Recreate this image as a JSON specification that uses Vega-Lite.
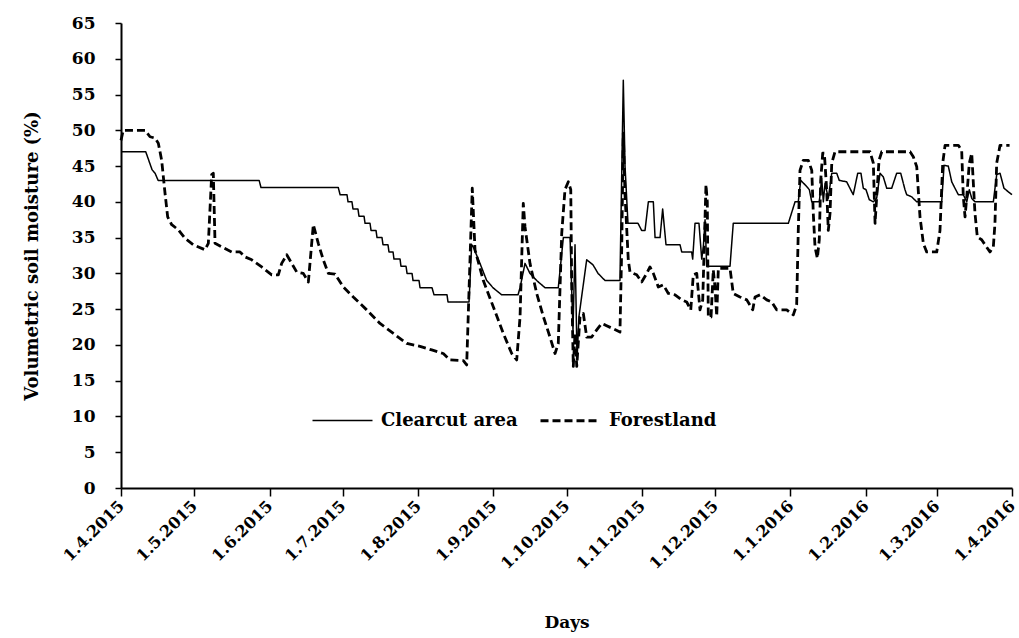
{
  "$schema": "https://vega.github.io/schema/vega-lite/v6.json",
  "width": 891,
  "height": 465,
  "autosize": {"type": "none"},
  "padding": {"left": 121, "top": 23, "right": 7, "bottom": 150},
  "background": "white",
  "data": {"values": [
    {"series":"Clearcut area","date":"2015-04-01T00:00","moisture":47},
    {"series":"Clearcut area","date":"2015-04-11T04:00","moisture":47},
    {"series":"Clearcut area","date":"2015-04-13T18:00","moisture":44.5},
    {"series":"Clearcut area","date":"2015-04-15T00:00","moisture":44},
    {"series":"Clearcut area","date":"2015-04-16T06:00","moisture":43},
    {"series":"Clearcut area","date":"2015-05-27T18:00","moisture":43},
    {"series":"Clearcut area","date":"2015-05-28T12:00","moisture":42},
    {"series":"Clearcut area","date":"2015-06-29T06:00","moisture":42},
    {"series":"Clearcut area","date":"2015-06-30T00:00","moisture":41},
    {"series":"Clearcut area","date":"2015-07-02T20:00","moisture":41},
    {"series":"Clearcut area","date":"2015-07-03T06:00","moisture":40},
    {"series":"Clearcut area","date":"2015-07-04T21:00","moisture":40},
    {"series":"Clearcut area","date":"2015-07-05T07:00","moisture":39},
    {"series":"Clearcut area","date":"2015-07-07T08:00","moisture":39},
    {"series":"Clearcut area","date":"2015-07-07T18:00","moisture":38},
    {"series":"Clearcut area","date":"2015-07-09T20:00","moisture":38},
    {"series":"Clearcut area","date":"2015-07-10T06:00","moisture":37},
    {"series":"Clearcut area","date":"2015-07-12T07:00","moisture":37},
    {"series":"Clearcut area","date":"2015-07-12T17:00","moisture":36},
    {"series":"Clearcut area","date":"2015-07-14T18:00","moisture":36},
    {"series":"Clearcut area","date":"2015-07-15T04:00","moisture":35},
    {"series":"Clearcut area","date":"2015-07-17T05:00","moisture":35},
    {"series":"Clearcut area","date":"2015-07-17T15:00","moisture":34},
    {"series":"Clearcut area","date":"2015-07-19T16:00","moisture":34},
    {"series":"Clearcut area","date":"2015-07-20T02:00","moisture":33},
    {"series":"Clearcut area","date":"2015-07-21T18:00","moisture":33},
    {"series":"Clearcut area","date":"2015-07-22T03:00","moisture":32},
    {"series":"Clearcut area","date":"2015-07-24T15:00","moisture":32},
    {"series":"Clearcut area","date":"2015-07-25T00:00","moisture":31},
    {"series":"Clearcut area","date":"2015-07-27T02:00","moisture":31},
    {"series":"Clearcut area","date":"2015-07-27T12:00","moisture":30},
    {"series":"Clearcut area","date":"2015-07-29T13:00","moisture":30},
    {"series":"Clearcut area","date":"2015-07-29T23:00","moisture":29},
    {"series":"Clearcut area","date":"2015-08-01T10:00","moisture":29},
    {"series":"Clearcut area","date":"2015-08-01T20:00","moisture":28},
    {"series":"Clearcut area","date":"2015-08-06T18:00","moisture":28},
    {"series":"Clearcut area","date":"2015-08-07T14:00","moisture":27},
    {"series":"Clearcut area","date":"2015-08-12T22:00","moisture":27},
    {"series":"Clearcut area","date":"2015-08-13T08:00","moisture":26},
    {"series":"Clearcut area","date":"2015-08-21T23:00","moisture":26},
    {"series":"Clearcut area","date":"2015-08-23T01:00","moisture":34},
    {"series":"Clearcut area","date":"2015-08-23T17:00","moisture":33.7},
    {"series":"Clearcut area","date":"2015-08-26T11:00","moisture":31.4},
    {"series":"Clearcut area","date":"2015-08-29T05:00","moisture":29},
    {"series":"Clearcut area","date":"2015-08-31T19:00","moisture":28},
    {"series":"Clearcut area","date":"2015-09-04T09:00","moisture":27},
    {"series":"Clearcut area","date":"2015-09-11T02:00","moisture":27},
    {"series":"Clearcut area","date":"2015-09-11T22:00","moisture":28},
    {"series":"Clearcut area","date":"2015-09-13T23:00","moisture":31.4},
    {"series":"Clearcut area","date":"2015-09-16T00:00","moisture":30},
    {"series":"Clearcut area","date":"2015-09-18T18:00","moisture":29},
    {"series":"Clearcut area","date":"2015-09-22T04:00","moisture":28},
    {"series":"Clearcut area","date":"2015-09-27T15:00","moisture":28},
    {"series":"Clearcut area","date":"2015-09-29T17:00","moisture":35},
    {"series":"Clearcut area","date":"2015-10-02T11:00","moisture":35},
    {"series":"Clearcut area","date":"2015-10-03T16:00","moisture":22},
    {"series":"Clearcut area","date":"2015-10-04T12:00","moisture":34},
    {"series":"Clearcut area","date":"2015-10-05T08:00","moisture":18},
    {"series":"Clearcut area","date":"2015-10-06T03:00","moisture":24},
    {"series":"Clearcut area","date":"2015-10-09T07:00","moisture":31.9},
    {"series":"Clearcut area","date":"2015-10-11T21:00","moisture":31.2},
    {"series":"Clearcut area","date":"2015-10-13T23:00","moisture":30},
    {"series":"Clearcut area","date":"2015-10-16T20:00","moisture":29},
    {"series":"Clearcut area","date":"2015-10-22T23:00","moisture":29},
    {"series":"Clearcut area","date":"2015-10-24T08:00","moisture":57},
    {"series":"Clearcut area","date":"2015-10-25T01:00","moisture":45},
    {"series":"Clearcut area","date":"2015-10-26T06:00","moisture":37},
    {"series":"Clearcut area","date":"2015-10-30T09:00","moisture":37},
    {"series":"Clearcut area","date":"2015-10-31T21:00","moisture":36},
    {"series":"Clearcut area","date":"2015-11-02T06:00","moisture":36},
    {"series":"Clearcut area","date":"2015-11-03T15:00","moisture":40},
    {"series":"Clearcut area","date":"2015-11-05T16:00","moisture":40},
    {"series":"Clearcut area","date":"2015-11-06T09:00","moisture":35},
    {"series":"Clearcut area","date":"2015-11-08T10:00","moisture":35},
    {"series":"Clearcut area","date":"2015-11-09T12:00","moisture":39},
    {"series":"Clearcut area","date":"2015-11-10T21:00","moisture":34},
    {"series":"Clearcut area","date":"2015-11-16T15:00","moisture":34},
    {"series":"Clearcut area","date":"2015-11-17T08:00","moisture":33},
    {"series":"Clearcut area","date":"2015-11-21T10:00","moisture":33},
    {"series":"Clearcut area","date":"2015-11-21T20:00","moisture":32},
    {"series":"Clearcut area","date":"2015-11-22T19:00","moisture":37},
    {"series":"Clearcut area","date":"2015-11-24T10:00","moisture":37},
    {"series":"Clearcut area","date":"2015-11-25T13:00","moisture":32},
    {"series":"Clearcut area","date":"2015-11-26T05:00","moisture":33.7},
    {"series":"Clearcut area","date":"2015-11-26T22:00","moisture":37.5},
    {"series":"Clearcut area","date":"2015-11-27T14:00","moisture":31},
    {"series":"Clearcut area","date":"2015-12-07T04:00","moisture":31},
    {"series":"Clearcut area","date":"2015-12-08T12:00","moisture":37},
    {"series":"Clearcut area","date":"2015-12-31T03:00","moisture":37},
    {"series":"Clearcut area","date":"2016-01-02T21:00","moisture":40},
    {"series":"Clearcut area","date":"2016-01-04T05:00","moisture":40},
    {"series":"Clearcut area","date":"2016-01-05T05:00","moisture":43},
    {"series":"Clearcut area","date":"2016-01-06T23:00","moisture":42.4},
    {"series":"Clearcut area","date":"2016-01-08T18:00","moisture":41.7},
    {"series":"Clearcut area","date":"2016-01-09T18:00","moisture":40},
    {"series":"Clearcut area","date":"2016-01-12T20:00","moisture":40},
    {"series":"Clearcut area","date":"2016-01-13T20:00","moisture":43.3},
    {"series":"Clearcut area","date":"2016-01-14T12:00","moisture":40},
    {"series":"Clearcut area","date":"2016-01-15T05:00","moisture":42.6},
    {"series":"Clearcut area","date":"2016-01-16T13:00","moisture":40.5},
    {"series":"Clearcut area","date":"2016-01-17T23:00","moisture":44},
    {"series":"Clearcut area","date":"2016-01-20T00:00","moisture":44},
    {"series":"Clearcut area","date":"2016-01-21T01:00","moisture":43},
    {"series":"Clearcut area","date":"2016-01-24T02:00","moisture":42.8},
    {"series":"Clearcut area","date":"2016-01-26T04:00","moisture":41.4},
    {"series":"Clearcut area","date":"2016-01-26T19:00","moisture":41},
    {"series":"Clearcut area","date":"2016-01-28T15:00","moisture":44},
    {"series":"Clearcut area","date":"2016-01-29T23:00","moisture":44},
    {"series":"Clearcut area","date":"2016-01-30T22:00","moisture":41.9},
    {"series":"Clearcut area","date":"2016-02-01T01:00","moisture":41.7},
    {"series":"Clearcut area","date":"2016-02-02T09:00","moisture":40.3},
    {"series":"Clearcut area","date":"2016-02-04T01:00","moisture":40},
    {"series":"Clearcut area","date":"2016-02-05T10:00","moisture":40.5},
    {"series":"Clearcut area","date":"2016-02-06T19:00","moisture":44},
    {"series":"Clearcut area","date":"2016-02-08T03:00","moisture":43.5},
    {"series":"Clearcut area","date":"2016-02-09T13:00","moisture":41.9},
    {"series":"Clearcut area","date":"2016-02-11T14:00","moisture":41.9},
    {"series":"Clearcut area","date":"2016-02-13T15:00","moisture":44},
    {"series":"Clearcut area","date":"2016-02-15T07:00","moisture":44},
    {"series":"Clearcut area","date":"2016-02-17T01:00","moisture":41.7},
    {"series":"Clearcut area","date":"2016-02-17T18:00","moisture":41},
    {"series":"Clearcut area","date":"2016-02-19T19:00","moisture":40.7},
    {"series":"Clearcut area","date":"2016-02-21T21:00","moisture":40},
    {"series":"Clearcut area","date":"2016-03-03T03:00","moisture":40},
    {"series":"Clearcut area","date":"2016-03-04T02:00","moisture":45.1},
    {"series":"Clearcut area","date":"2016-03-05T20:00","moisture":45},
    {"series":"Clearcut area","date":"2016-03-07T06:00","moisture":42.8},
    {"series":"Clearcut area","date":"2016-03-08T14:00","moisture":41.9},
    {"series":"Clearcut area","date":"2016-03-09T23:00","moisture":41},
    {"series":"Clearcut area","date":"2016-03-12T00:00","moisture":41},
    {"series":"Clearcut area","date":"2016-03-13T10:00","moisture":40},
    {"series":"Clearcut area","date":"2016-03-14T11:00","moisture":41.7},
    {"series":"Clearcut area","date":"2016-03-15T11:00","moisture":40.5},
    {"series":"Clearcut area","date":"2016-03-16T19:00","moisture":40},
    {"series":"Clearcut area","date":"2016-03-24T08:00","moisture":40},
    {"series":"Clearcut area","date":"2016-03-25T17:00","moisture":43.8},
    {"series":"Clearcut area","date":"2016-03-27T02:00","moisture":44},
    {"series":"Clearcut area","date":"2016-03-28T17:00","moisture":41.9},
    {"series":"Clearcut area","date":"2016-03-30T12:00","moisture":41.4},
    {"series":"Clearcut area","date":"2016-04-01T00:00","moisture":41},
    {"series":"Forestland","date":"2015-04-01T00:00","moisture":48.6},
    {"series":"Forestland","date":"2015-04-01T22:00","moisture":50},
    {"series":"Forestland","date":"2015-04-10T21:00","moisture":50},
    {"series":"Forestland","date":"2015-04-12T22:00","moisture":49.1},
    {"series":"Forestland","date":"2015-04-15T00:00","moisture":48.9},
    {"series":"Forestland","date":"2015-04-16T08:00","moisture":48.2},
    {"series":"Forestland","date":"2015-04-17T17:00","moisture":45.8},
    {"series":"Forestland","date":"2015-04-19T02:00","moisture":41.2},
    {"series":"Forestland","date":"2015-04-20T04:00","moisture":37.9},
    {"series":"Forestland","date":"2015-04-21T20:00","moisture":36.8},
    {"series":"Forestland","date":"2015-04-24T13:00","moisture":36.1},
    {"series":"Forestland","date":"2015-04-27T07:00","moisture":34.9},
    {"series":"Forestland","date":"2015-04-30T17:00","moisture":34},
    {"series":"Forestland","date":"2015-05-05T12:00","moisture":33.3},
    {"series":"Forestland","date":"2015-05-06T21:00","moisture":34.2},
    {"series":"Forestland","date":"2015-05-08T06:00","moisture":43.8},
    {"series":"Forestland","date":"2015-05-08T22:00","moisture":44},
    {"series":"Forestland","date":"2015-05-09T15:00","moisture":34.2},
    {"series":"Forestland","date":"2015-05-12T09:00","moisture":33.7},
    {"series":"Forestland","date":"2015-05-16T11:00","moisture":33},
    {"series":"Forestland","date":"2015-05-19T21:00","moisture":33},
    {"series":"Forestland","date":"2015-05-21T23:00","moisture":32.3},
    {"series":"Forestland","date":"2015-05-24T17:00","moisture":31.9},
    {"series":"Forestland","date":"2015-05-28T19:00","moisture":30.9},
    {"series":"Forestland","date":"2015-06-01T22:00","moisture":29.8},
    {"series":"Forestland","date":"2015-06-04T15:00","moisture":29.8},
    {"series":"Forestland","date":"2015-06-06T00:00","moisture":31.4},
    {"series":"Forestland","date":"2015-06-08T02:00","moisture":32.6},
    {"series":"Forestland","date":"2015-06-10T03:00","moisture":31.4},
    {"series":"Forestland","date":"2015-06-12T04:00","moisture":30.2},
    {"series":"Forestland","date":"2015-06-14T21:00","moisture":30},
    {"series":"Forestland","date":"2015-06-16T23:00","moisture":28.8},
    {"series":"Forestland","date":"2015-06-19T00:00","moisture":36.8},
    {"series":"Forestland","date":"2015-06-21T01:00","moisture":34.2},
    {"series":"Forestland","date":"2015-06-23T02:00","moisture":31.9},
    {"series":"Forestland","date":"2015-06-25T04:00","moisture":30},
    {"series":"Forestland","date":"2015-06-27T22:00","moisture":29.9},
    {"series":"Forestland","date":"2015-07-01T08:00","moisture":28.1},
    {"series":"Forestland","date":"2015-07-05T10:00","moisture":26.7},
    {"series":"Forestland","date":"2015-07-10T22:00","moisture":24.9},
    {"series":"Forestland","date":"2015-07-16T09:00","moisture":23},
    {"series":"Forestland","date":"2015-07-21T21:00","moisture":21.6},
    {"series":"Forestland","date":"2015-07-27T09:00","moisture":20.2},
    {"series":"Forestland","date":"2015-08-01T20:00","moisture":19.8},
    {"series":"Forestland","date":"2015-08-06T15:00","moisture":19.3},
    {"series":"Forestland","date":"2015-08-11T09:00","moisture":18.8},
    {"series":"Forestland","date":"2015-08-14T04:00","moisture":17.9},
    {"series":"Forestland","date":"2015-08-19T15:00","moisture":17.8},
    {"series":"Forestland","date":"2015-08-21T00:00","moisture":17.2},
    {"series":"Forestland","date":"2015-08-23T07:00","moisture":41.9},
    {"series":"Forestland","date":"2015-08-24T10:00","moisture":33.3},
    {"series":"Forestland","date":"2015-08-27T20:00","moisture":29},
    {"series":"Forestland","date":"2015-08-31T23:00","moisture":25.3},
    {"series":"Forestland","date":"2015-09-05T01:00","moisture":21.6},
    {"series":"Forestland","date":"2015-09-08T12:00","moisture":18.8},
    {"series":"Forestland","date":"2015-09-10T13:00","moisture":17.9},
    {"series":"Forestland","date":"2015-09-11T22:00","moisture":23.9},
    {"series":"Forestland","date":"2015-09-13T06:00","moisture":39.8},
    {"series":"Forestland","date":"2015-09-13T23:00","moisture":36.5},
    {"series":"Forestland","date":"2015-09-16T00:00","moisture":31.4},
    {"series":"Forestland","date":"2015-09-18T18:00","moisture":27.2},
    {"series":"Forestland","date":"2015-09-21T11:00","moisture":24},
    {"series":"Forestland","date":"2015-09-24T05:00","moisture":21.1},
    {"series":"Forestland","date":"2015-09-26T07:00","moisture":18.8},
    {"series":"Forestland","date":"2015-09-27T15:00","moisture":20.2},
    {"series":"Forestland","date":"2015-09-29T01:00","moisture":35.6},
    {"series":"Forestland","date":"2015-09-30T09:00","moisture":41.7},
    {"series":"Forestland","date":"2015-10-01T18:00","moisture":42.8},
    {"series":"Forestland","date":"2015-10-02T18:00","moisture":41.7},
    {"series":"Forestland","date":"2015-10-03T03:00","moisture":28.6},
    {"series":"Forestland","date":"2015-10-03T19:00","moisture":17},
    {"series":"Forestland","date":"2015-10-04T12:00","moisture":21.6},
    {"series":"Forestland","date":"2015-10-05T05:00","moisture":17},
    {"series":"Forestland","date":"2015-10-06T13:00","moisture":23.9},
    {"series":"Forestland","date":"2015-10-07T22:00","moisture":24.4},
    {"series":"Forestland","date":"2015-10-09T07:00","moisture":21.1},
    {"series":"Forestland","date":"2015-10-11T08:00","moisture":21.1},
    {"series":"Forestland","date":"2015-10-13T10:00","moisture":22.1},
    {"series":"Forestland","date":"2015-10-15T11:00","moisture":23},
    {"series":"Forestland","date":"2015-10-16T20:00","moisture":22.8},
    {"series":"Forestland","date":"2015-10-22T23:00","moisture":21.8},
    {"series":"Forestland","date":"2015-10-23T16:00","moisture":33.3},
    {"series":"Forestland","date":"2015-10-24T08:00","moisture":49.6},
    {"series":"Forestland","date":"2015-10-25T01:00","moisture":41},
    {"series":"Forestland","date":"2015-10-26T09:00","moisture":31.9},
    {"series":"Forestland","date":"2015-10-27T02:00","moisture":30.2},
    {"series":"Forestland","date":"2015-10-29T20:00","moisture":29.8},
    {"series":"Forestland","date":"2015-10-31T21:00","moisture":28.8},
    {"series":"Forestland","date":"2015-11-02T23:00","moisture":30},
    {"series":"Forestland","date":"2015-11-04T07:00","moisture":30.9},
    {"series":"Forestland","date":"2015-11-05T16:00","moisture":30},
    {"series":"Forestland","date":"2015-11-07T17:00","moisture":28.1},
    {"series":"Forestland","date":"2015-11-09T18:00","moisture":28.4},
    {"series":"Forestland","date":"2015-11-11T20:00","moisture":27.2},
    {"series":"Forestland","date":"2015-11-14T14:00","moisture":27},
    {"series":"Forestland","date":"2015-11-17T08:00","moisture":26.3},
    {"series":"Forestland","date":"2015-11-19T09:00","moisture":26},
    {"series":"Forestland","date":"2015-11-21T01:00","moisture":24.9},
    {"series":"Forestland","date":"2015-11-22T02:00","moisture":29.8},
    {"series":"Forestland","date":"2015-11-23T12:00","moisture":30},
    {"series":"Forestland","date":"2015-11-24T20:00","moisture":24.9},
    {"series":"Forestland","date":"2015-11-25T23:00","moisture":26.3},
    {"series":"Forestland","date":"2015-11-27T07:00","moisture":42.4},
    {"series":"Forestland","date":"2015-11-27T20:00","moisture":40},
    {"series":"Forestland","date":"2015-11-28T06:00","moisture":23.9},
    {"series":"Forestland","date":"2015-11-29T09:00","moisture":23.9},
    {"series":"Forestland","date":"2015-11-30T07:00","moisture":30.5},
    {"series":"Forestland","date":"2015-12-01T00:00","moisture":28.1},
    {"series":"Forestland","date":"2015-12-01T17:00","moisture":24},
    {"series":"Forestland","date":"2015-12-02T09:00","moisture":30.7},
    {"series":"Forestland","date":"2015-12-07T04:00","moisture":30.7},
    {"series":"Forestland","date":"2015-12-08T12:00","moisture":27.2},
    {"series":"Forestland","date":"2015-12-11T06:00","moisture":26.7},
    {"series":"Forestland","date":"2015-12-14T01:00","moisture":26.3},
    {"series":"Forestland","date":"2015-12-16T12:00","moisture":24.9},
    {"series":"Forestland","date":"2015-12-17T11:00","moisture":26.7},
    {"series":"Forestland","date":"2015-12-19T12:00","moisture":27},
    {"series":"Forestland","date":"2015-12-22T06:00","moisture":26.3},
    {"series":"Forestland","date":"2015-12-24T07:00","moisture":26},
    {"series":"Forestland","date":"2015-12-26T08:00","moisture":24.9},
    {"series":"Forestland","date":"2015-12-30T11:00","moisture":24.9},
    {"series":"Forestland","date":"2016-01-02T04:00","moisture":24.2},
    {"series":"Forestland","date":"2016-01-03T13:00","moisture":25.6},
    {"series":"Forestland","date":"2016-01-04T05:00","moisture":36},
    {"series":"Forestland","date":"2016-01-04T22:00","moisture":44.4},
    {"series":"Forestland","date":"2016-01-06T06:00","moisture":45.8},
    {"series":"Forestland","date":"2016-01-08T08:00","moisture":45.8},
    {"series":"Forestland","date":"2016-01-09T18:00","moisture":44.4},
    {"series":"Forestland","date":"2016-01-10T09:00","moisture":38.4},
    {"series":"Forestland","date":"2016-01-11T02:00","moisture":33.7},
    {"series":"Forestland","date":"2016-01-12T01:00","moisture":32.1},
    {"series":"Forestland","date":"2016-01-12T20:00","moisture":34.7},
    {"series":"Forestland","date":"2016-01-13T10:00","moisture":43},
    {"series":"Forestland","date":"2016-01-14T06:00","moisture":46.8},
    {"series":"Forestland","date":"2016-01-14T22:00","moisture":46.8},
    {"series":"Forestland","date":"2016-01-15T21:00","moisture":41.7},
    {"series":"Forestland","date":"2016-01-16T13:00","moisture":36},
    {"series":"Forestland","date":"2016-01-17T06:00","moisture":38.4},
    {"series":"Forestland","date":"2016-01-17T23:00","moisture":45.4},
    {"series":"Forestland","date":"2016-01-19T07:00","moisture":47},
    {"series":"Forestland","date":"2016-02-02T16:00","moisture":47},
    {"series":"Forestland","date":"2016-02-04T01:00","moisture":45.4},
    {"series":"Forestland","date":"2016-02-04T18:00","moisture":37},
    {"series":"Forestland","date":"2016-02-05T10:00","moisture":40.7},
    {"series":"Forestland","date":"2016-02-06T09:00","moisture":45.8},
    {"series":"Forestland","date":"2016-02-07T12:00","moisture":47},
    {"series":"Forestland","date":"2016-02-19T03:00","moisture":47},
    {"series":"Forestland","date":"2016-02-20T11:00","moisture":46.3},
    {"series":"Forestland","date":"2016-02-21T21:00","moisture":44.9},
    {"series":"Forestland","date":"2016-02-23T05:00","moisture":37.9},
    {"series":"Forestland","date":"2016-02-24T14:00","moisture":34.2},
    {"series":"Forestland","date":"2016-02-25T23:00","moisture":33},
    {"series":"Forestland","date":"2016-03-01T02:00","moisture":33},
    {"series":"Forestland","date":"2016-03-02T10:00","moisture":36},
    {"series":"Forestland","date":"2016-03-03T13:00","moisture":45.4},
    {"series":"Forestland","date":"2016-03-04T12:00","moisture":47.9},
    {"series":"Forestland","date":"2016-03-09T23:00","moisture":47.9},
    {"series":"Forestland","date":"2016-03-11T08:00","moisture":47.2},
    {"series":"Forestland","date":"2016-03-12T00:00","moisture":40.7},
    {"series":"Forestland","date":"2016-03-12T17:00","moisture":37.9},
    {"series":"Forestland","date":"2016-03-13T10:00","moisture":40.7},
    {"series":"Forestland","date":"2016-03-14T11:00","moisture":45.4},
    {"series":"Forestland","date":"2016-03-15T11:00","moisture":46.8},
    {"series":"Forestland","date":"2016-03-16T03:00","moisture":42.6},
    {"series":"Forestland","date":"2016-03-16T19:00","moisture":38.4},
    {"series":"Forestland","date":"2016-03-17T18:00","moisture":35.1},
    {"series":"Forestland","date":"2016-03-19T13:00","moisture":34.7},
    {"series":"Forestland","date":"2016-03-20T22:00","moisture":34},
    {"series":"Forestland","date":"2016-03-22T23:00","moisture":33},
    {"series":"Forestland","date":"2016-03-24T08:00","moisture":33.7},
    {"series":"Forestland","date":"2016-03-25T00:00","moisture":37},
    {"series":"Forestland","date":"2016-03-25T17:00","moisture":45.4},
    {"series":"Forestland","date":"2016-03-27T02:00","moisture":47.9},
    {"series":"Forestland","date":"2016-03-31T00:00","moisture":47.9}
  ]},
  "mark": {"type": "line", "color": "black", "strokeJoin": "round", "strokeCap": "butt"},
  "encoding": {
    "x": {
      "field": "date",
      "type": "temporal",
      "scale": {"domain": [{"year": 2015, "month": 4, "date": 1}, {"year": 2016, "month": 4, "date": 1}]},
      "axis": {
        "title": "Days",
        "format": "%-d.%-m.%Y",
        "values": [
          {"year": 2015, "month": 4, "date": 1}, {"year": 2015, "month": 5, "date": 1},
          {"year": 2015, "month": 6, "date": 1}, {"year": 2015, "month": 7, "date": 1},
          {"year": 2015, "month": 8, "date": 1}, {"year": 2015, "month": 9, "date": 1},
          {"year": 2015, "month": 10, "date": 1}, {"year": 2015, "month": 11, "date": 1},
          {"year": 2015, "month": 12, "date": 1}, {"year": 2016, "month": 1, "date": 1},
          {"year": 2016, "month": 2, "date": 1}, {"year": 2016, "month": 3, "date": 1},
          {"year": 2016, "month": 4, "date": 1}
        ],
        "labelAngle": -45,
        "labelAlign": "right",
        "labelBaseline": "middle",
        "labelFontSize": 16,
        "labelPadding": 7,
        "labelOverlap": false,
        "labelFlush": false,
        "tickSize": 8,
        "tickWidth": 1.5,
        "domainWidth": 2,
        "titleFontSize": 17,
        "titlePadding": 43
      }
    },
    "y": {
      "field": "moisture",
      "type": "quantitative",
      "scale": {"domain": [0, 65], "nice": false, "zero": true},
      "axis": {
        "title": "Volumetric soil moisture (%)",
        "values": [0, 5, 10, 15, 20, 25, 30, 35, 40, 45, 50, 55, 60, 65],
        "labelFontSize": 17,
        "labelPadding": 20,
        "tickSize": 6,
        "tickWidth": 1.5,
        "domainWidth": 2,
        "titleFontSize": 18,
        "titlePadding": 30
      }
    },
    "strokeDash": {
      "field": "series",
      "type": "nominal",
      "scale": {"domain": ["Clearcut area", "Forestland"], "range": [[1, 0], [8, 4]]},
      "legend": {
        "title": null,
        "orient": "none",
        "legendX": 190,
        "legendY": 366,
        "direction": "horizontal",
        "columns": 2,
        "columnPadding": 16,
        "symbolType": "stroke",
        "symbolSize": 3600,
        "symbolStrokeColor": "black",
        "labelFontSize": 18,
        "labelOffset": 7,
        "padding": 0
      }
    },
    "strokeWidth": {
      "field": "series",
      "type": "nominal",
      "scale": {"domain": ["Clearcut area", "Forestland"], "range": [1.5, 2.8]},
      "legend": null
    }
  },
  "config": {
    "view": {"stroke": null},
    "font": "DejaVu Serif",
    "axis": {
      "grid": false,
      "labelFont": "DejaVu Serif",
      "labelFontWeight": "bold",
      "labelColor": "black",
      "titleFont": "DejaVu Serif",
      "titleFontWeight": "bold",
      "titleColor": "black",
      "domainColor": "black",
      "tickColor": "black"
    },
    "legend": {
      "labelFont": "DejaVu Serif",
      "labelFontWeight": "bold",
      "labelColor": "black",
      "labelLimit": 400
    }
  }
}
